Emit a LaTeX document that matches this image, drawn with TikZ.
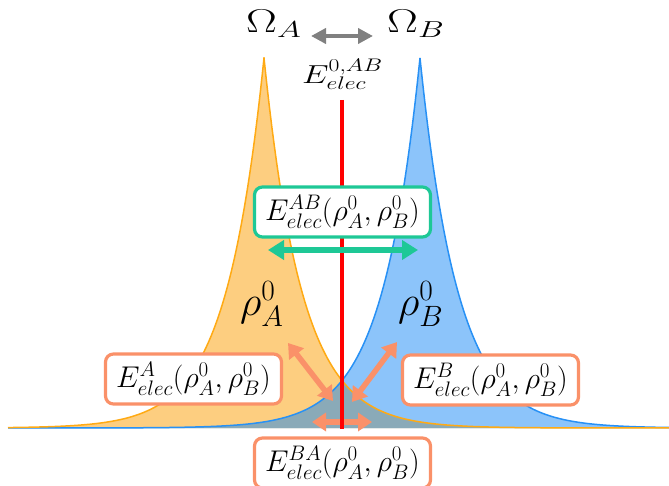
\RequirePackage{fix-cm}
\documentclass[tikz,border=0pt]{standalone}
\usetikzlibrary{arrows.meta}
\definecolor{ofill}{RGB}{253,206,128}
\definecolor{oline}{RGB}{255,170,20}
\definecolor{bfill}{RGB}{140,196,250}
\definecolor{bline}{RGB}{40,145,245}
\definecolor{ovfill}{RGB}{138,170,184}
\definecolor{salmonc}{RGB}{250,145,105}
\definecolor{greenb}{RGB}{30,200,150}
\definecolor{grayc}{RGB}{128,128,128}
\tikzset{
  ebox/.style={draw, rounded corners=8, line width=3.2, fill=white, minimum width=176, minimum height=50, inner sep=0, font=\fontsize{30}{32}\selectfont},
  bigtxt/.style={inner sep=0, font=\fontsize{33}{36}\selectfont},
  rhotxt/.style={inner sep=0, font=\fontsize{42}{46}\selectfont},
  midtxt/.style={inner sep=0, font=\fontsize{26}{30}\selectfont},
  garrow/.style={draw=greenb, line width=6, {Triangle[length=16,width=19]}-{Triangle[length=16,width=19]}},
  sarrow/.style={draw=salmonc, line width=5.5, {Triangle[length=14,width=18]}-{Triangle[length=14,width=18]}},
  grarrow/.style={draw=grayc, line width=4.5, {Triangle[length=15,width=15]}-{Triangle[length=15,width=15]}},
}
\begin{document}
\begin{tikzpicture}[x=1pt,y=-1pt]
\useasboundingbox (0,0) rectangle (669,486);
% densities
\fill[ofill] (8,428) -- plot[domain=8:264,samples=160] (\x,{428-370*exp(-abs(\x-264)/38)}) -- plot[domain=264:669,samples=160] (\x,{428-370*exp(-abs(\x-264)/38)}) -- (669,428) -- cycle;
\fill[bfill] (8,428) -- plot[domain=8:420,samples=160] (\x,{428-370*exp(-abs(\x-420)/38)}) -- plot[domain=420:669,samples=160] (\x,{428-370*exp(-abs(\x-420)/38)}) -- (669,428) -- cycle;
\fill[ovfill] (8,428) -- plot[domain=8:342,samples=160] (\x,{428-370*exp(-abs(\x-420)/38)}) -- plot[domain=342:669,samples=160] (\x,{428-370*exp(-abs(\x-264)/38)}) -- (669,428) -- cycle;
\draw[bline, line width=1.5] plot[domain=8:420,samples=160] (\x,{428-370*exp(-abs(\x-420)/38)}) -- plot[domain=420:669,samples=160] (\x,{428-370*exp(-abs(\x-420)/38)});
\draw[oline, line width=1.5] plot[domain=8:264,samples=160] (\x,{428-370*exp(-abs(\x-264)/38)}) -- plot[domain=264:669,samples=160] (\x,{428-370*exp(-abs(\x-264)/38)});
% salmon arrows
\coordinate (la1) at (288,343); \coordinate (la2) at (333,401);
\coordinate (ra1) at (397,342); \coordinate (ra2) at (352,402);
\coordinate (ha1) at (312,422); \coordinate (ha2) at (372,422);
\draw[sarrow] (la1) -- (la2);
\draw[sarrow] (ra1) -- (ra2);
\draw[sarrow] (ha1) -- (ha2);
% red line
\coordinate (rt) at (342,100); \coordinate (rb) at (342,429);
\draw[red, line width=4] (rt) -- (rb);
% labels
\node[bigtxt, anchor=base west] (OA) at (246,33) {\scalebox{1.4}[1]{$\Omega_A$}};
\node[bigtxt, anchor=base west] (OB) at (387,33) {\scalebox{1.4}[1]{$\Omega_B$}};
\coordinate (gy1) at (311,36); \coordinate (gy2) at (373,36);
\draw[grarrow] (gy1) -- (gy2);
\node[midtxt, anchor=base west] (E0) at (302,84) {\scalebox{1.3}[1]{$E^{0,AB}_{elec}$}};
\node[rhotxt, anchor=base west] (rA) at (240,316) {$\rho^0_A$};
\node[rhotxt, anchor=base west] (rB) at (398,316) {$\rho^0_B$};
% boxes
\node[ebox, draw=greenb] (gbox) at (342.5,212) {$E^{AB}_{elec}(\rho^0_A,\rho^0_B)$};
\coordinate (ga1) at (268,250); \coordinate (ga2) at (418,250);
\draw[garrow] (ga1) -- (ga2);
\node[ebox, draw=salmonc] (abox) at (193.5,379) {$E^{A}_{elec}(\rho^0_A,\rho^0_B)$};
\node[ebox, draw=salmonc] (bbox) at (490.5,380) {$E^{B}_{elec}(\rho^0_A,\rho^0_B)$};
\node[ebox, draw=salmonc] (babox) at (342.5,463) {$E^{BA}_{elec}(\rho^0_A,\rho^0_B)$};
\end{tikzpicture}
\end{document}
